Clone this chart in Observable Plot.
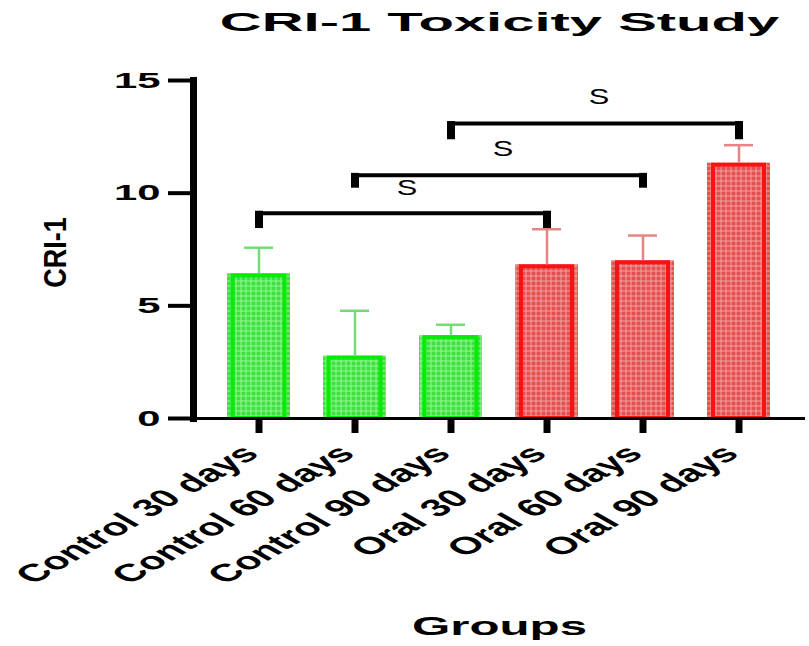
<!DOCTYPE html>
<html>
<head>
<meta charset="utf-8">
<script src="https://cdn.jsdelivr.net/npm/d3@7"></script>
<script src="https://cdn.jsdelivr.net/npm/@observablehq/plot@0.6"></script>
<style>
  html, body { margin: 0; padding: 0; background: #fff; }
  #chart svg { display: block; }
</style>
</head>
<body>
<div id="chart"></div>
<script>
// ---- data ----
const groups = ["Control 30 days", "Control 60 days", "Control 90 days", "Oral 30 days", "Oral 60 days", "Oral 90 days"];
const treatment = ["Control", "Control", "Control", "Oral", "Oral", "Oral"];
const means = [6.42, 2.77, 3.68, 6.82, 7.00, 11.33];
const sds = [1.16, 2.01, 0.48, 1.58, 1.12, 0.80];
const yTicks = [0, 5, 10, 15];
const bracketFrom = ["Control 30 days", "Control 60 days", "Control 90 days"];
const bracketTo = ["Oral 30 days", "Oral 60 days", "Oral 90 days"];
const bracketLevel = [9.11, 10.79, 13.09];
const bracketDrop = [8.43, 10.22, 12.37];
const sigLevel = [10.25, 11.98, 14.25];
const sigLabel = ["S", "S", "S"];
const titleText = ["CRI-1 Toxicity Study"];
const xTitle = ["Groups"];
const yTitle = ["CRI-1"];

// ---- tables built from arrays ----
const data = groups.map((g, i) => ({group: g, treatment: treatment[i], mean: means[i], top: means[i] + sds[i]}));
const brackets = bracketFrom.map((f, i) => ({from: f, to: bracketTo[i], level: bracketLevel[i], drop: bracketDrop[i], sig: sigLevel[i], label: sigLabel[i]}));
const drops = brackets.flatMap(b => [{x: b.from, level: b.level, drop: b.drop}, {x: b.to, level: b.level, drop: b.drop}]);

// ---- layout ----
const W = 809, H = 646, mL = 193, mR = 4, mT = 80, mB = 228;
const padIn = 0.34, padOut = 0.336;
const step = (W - mL - mR) / (groups.length - padIn + 2 * padOut);
const span = (groups.indexOf(bracketTo[0]) - groups.indexOf(bracketFrom[0])) / 2 * step;

const ctrl = data.filter(d => d.treatment === "Control");
const oral = data.filter(d => d.treatment === "Oral");

const svg = Plot.plot({
  width: W, height: H,
  marginLeft: mL, marginRight: mR, marginTop: mT, marginBottom: mB,
  style: {fontFamily: "'Liberation Sans', Arial, sans-serif", background: "#fff", color: "#000"},
  x: {domain: groups, paddingInner: padIn, paddingOuter: padOut, label: null},
  y: {domain: [0, 15], label: null},
  marks: [
    Plot.barY(ctrl, {x: "group", y: "mean", fill: "url(#gpat)"}),
    Plot.barY(oral, {x: "group", y: "mean", fill: "url(#rpat)"}),
    Plot.barY(ctrl, {x: "group", y: "mean", fill: "none", stroke: "#08ea08", strokeWidth: 4, insetLeft: 5.5, insetRight: 5.5, insetTop: 2}),
    Plot.barY(oral, {x: "group", y: "mean", fill: "none", stroke: "#f51414", strokeWidth: 4, insetLeft: 6, insetRight: 6, insetTop: 2}),
    Plot.ruleX(ctrl, {x: "group", y1: "mean", y2: "top", stroke: "#74dc74", strokeWidth: 2.5}),
    Plot.ruleX(oral, {x: "group", y1: "mean", y2: "top", stroke: "#e58585", strokeWidth: 2.5}),
    Plot.tickY(ctrl, {x: "group", y: "top", stroke: "#74dc74", strokeWidth: 2.5, insetLeft: 17, insetRight: 17}),
    Plot.tickY(oral, {x: "group", y: "top", stroke: "#e58585", strokeWidth: 2.5, insetLeft: 17, insetRight: 17}),
    Plot.ruleY([0], {stroke: "#000", strokeWidth: 3}),
    Plot.frame({anchor: "left", stroke: "#000", strokeWidth: 7}),
    Plot.axisY(yTicks, {tickSize: 25, tickPadding: 8, strokeWidth: 4, fontSize: 22, fontWeight: "bold", label: null}),
    Plot.axisX({tickSize: 15, strokeWidth: 7, tickFormat: null, label: null}),
    Plot.axisX({tickSize: 0, tickPadding: 31, dx: -8, tickRotate: -45, fontSize: 24.5, fontWeight: "bold", label: null}),
    // significance brackets
    Plot.link(brackets, {x1: "from", x2: "to", y1: "level", y2: "level", stroke: "#000", strokeWidth: 4}),
    Plot.ruleX(drops, {x: "x", y1: "level", y2: "drop", stroke: "#000", strokeWidth: 8, insetTop: -2}),
    Plot.text(brackets, {x: "from", y: "sig", text: "label", dx: span + 3, fontSize: 22, fill: "#000"}),
    // titles
    Plot.text(titleText, {frameAnchor: "top", dy: -68, fontSize: 26, fontWeight: "bold", fill: "#000"}),
    Plot.text(xTitle, {frameAnchor: "bottom", dy: 216, fontSize: 25, fontWeight: "bold", fill: "#000"}),
    Plot.text(yTitle, {frameAnchor: "left", textAnchor: "middle", dx: -137, dy: 3, rotate: -90, fontSize: 27, fontWeight: "bold", fill: "#000"})
  ]
});

// bar textures
const ns = "http://www.w3.org/2000/svg";
const defs = document.createElementNS(ns, "defs");
function pattern(id, base, light) {
  const p = document.createElementNS(ns, "pattern");
  p.setAttribute("id", id);
  p.setAttribute("patternUnits", "userSpaceOnUse");
  p.setAttribute("width", 5); p.setAttribute("height", 5);
  const r = document.createElementNS(ns, "rect");
  r.setAttribute("width", 5); r.setAttribute("height", 5); r.setAttribute("fill", base);
  const h = document.createElementNS(ns, "rect");
  h.setAttribute("width", 5); h.setAttribute("height", 2); h.setAttribute("fill", light); h.setAttribute("fill-opacity", 0.55);
  const v = document.createElementNS(ns, "rect");
  v.setAttribute("width", 2); v.setAttribute("height", 5); v.setAttribute("fill", light); v.setAttribute("fill-opacity", 0.55);
  p.append(r, h, v);
  defs.append(p);
}
pattern("gpat", "#3fdf3f", "#8ef58e");
pattern("rpat", "#e25050", "#f39b9b");
svg.insertBefore(defs, svg.firstChild);

// horizontal stretch of lettering, as in the reference image
svg.querySelectorAll("text").forEach(t => {
  const txt = t.textContent;
  const s = txt === titleText[0] ? 2.23 : txt === yTitle[0] ? 1.15 : txt === sigLabel[0] ? 1.4
    : txt === xTitle[0] ? 1.97 : groups.includes(txt) ? 1.75 : 1.9;
  const tr = t.getAttribute("transform");
  if (tr && tr.includes("rotate(")) {
    t.setAttribute("transform", tr.replace("rotate(", `scale(${s},1) rotate(`));
  } else if (tr) {
    t.setAttribute("transform", tr + ` scale(${s},1)`);
  } else {
    const x = +t.getAttribute("x") || 0, y = +t.getAttribute("y") || 0;
    t.setAttribute("transform", `translate(${x},${y}) scale(${s},1) translate(${-x},${-y})`);
  }
});

document.getElementById("chart").appendChild(svg);
</script>
</body>
</html>
